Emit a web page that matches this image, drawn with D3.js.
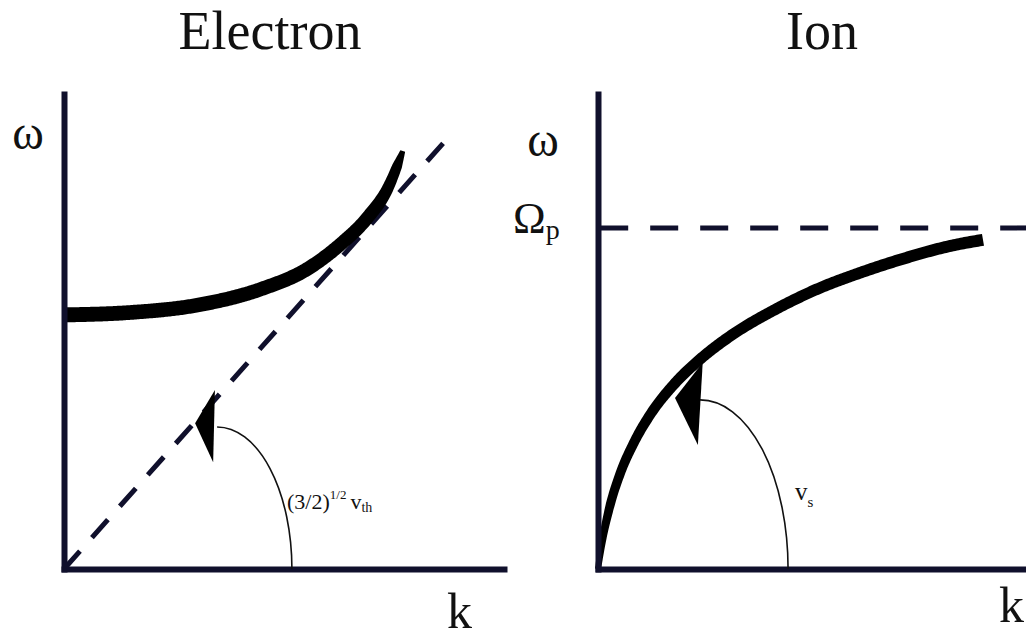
<!DOCTYPE html>
<html>
<head>
<meta charset="utf-8">
<script src="https://cdn.jsdelivr.net/npm/d3@7"></script>
<style>
  html, body { margin: 0; padding: 0; background: #fff; }
  svg { display: block; }
  text { font-family: "Liberation Serif", "Times New Roman", "DejaVu Serif", serif; fill: #111; }
</style>
</head>
<body>
<svg id="chart" width="1026" height="638"></svg>
<script>
// ---------- data (in panel units: k along x, omega along y, both 0..10) ----------
const panelTitles = ["Electron", "Ion"];

// Electron (Langmuir / Bohm-Gross) dispersion branch
const electronK     = [0, 1.5, 3, 4.5, 5.5, 6.3, 6.9, 7.35, 7.7];
const electronOmega = [5.35, 5.4, 5.55, 5.9, 6.3, 6.85, 7.4, 8.0, 8.8];

// Electron asymptote  omega = (3/2)^1/2 v_th k
const asymptoteK     = [0, 8.7];
const asymptoteOmega = [0, 9.05];

// Ion acoustic branch
const ionK     = [0, 0.1, 0.25, 0.5, 0.8, 1.2, 1.7, 2.3, 3.0, 4.0, 5.0, 6.0, 7.0, 8.0, 8.75];
const ionOmega = [0, 0.6, 1.25, 2.0, 2.63, 3.27, 3.86, 4.4, 4.9, 5.45, 5.9, 6.25, 6.55, 6.8, 6.93];

// Ion plasma frequency level
const omegaP = 7.18;
const omegaPK = [0.05, 10];

// Slope-indicator arcs: [centreK, radiusK, radiusOmega]
const electronArc = [3.48, 1.70, 2.99];
const ionArc      = [2.32, 2.0, 3.56];

// Arrowheads (k, omega) triangles
const electronArrowK = [2.98, 3.43, 3.39];
const electronArrowW = [3.07, 3.77, 2.25];
const ionArrowK = [1.75, 2.38, 2.27];
const ionArrowW = [3.60, 4.35, 2.61];

// ---------- layout ----------
const svg = d3.select("#chart");
const ink = "#000";
const navy = "#10102c";

const yScale = d3.scaleLinear().domain([0, 10]).range([569, 94]);
const xLeft  = d3.scaleLinear().domain([0, 10]).range([64, 504]);
const xRight = d3.scaleLinear().domain([0, 10]).range([598, 1038]);

function zip(a, b) { return a.map((v, i) => [v, b[i]]); }

// variable-width brush stroke along a smooth curve
function brush(g, x, ks, ws, widthStops) {
  const pts = zip(ks, ws).map(d => [x(d[0]), yScale(d[1])]);
  const line = d3.line().curve(d3.curveMonotoneX);
  const tmp = g.append("path").attr("d", line(pts)).attr("fill", "none");
  const node = tmp.node();
  const L = node.getTotalLength();
  const N = 300;
  const samples = d3.range(N + 1).map(i => node.getPointAtLength(L * i / N));
  const wInterp = d3.scaleLinear().domain(widthStops.map(s => s[0])).range(widthStops.map(s => s[1]));
  const left = [], right = [];
  samples.forEach((p, i) => {
    const a = samples[Math.max(0, i - 1)], b = samples[Math.min(N, i + 1)];
    const dx = b.x - a.x, dy = b.y - a.y;
    const len = Math.hypot(dx, dy) || 1;
    const nx = -dy / len, ny = dx / len;
    const w = wInterp(i / N) / 2;
    left.push([p.x + nx * w, p.y + ny * w]);
    right.push([p.x - nx * w, p.y - ny * w]);
  });
  tmp.remove();
  const poly = left.concat(right.reverse());
  g.append("path")
    .attr("d", d3.line().curve(d3.curveLinear)(poly) + "Z")
    .attr("fill", ink);
}

function arc(g, x, spec) {
  const [ck, rk, rw] = spec;
  const cx = x(ck), cy = yScale(0);
  const rx = x(ck + rk) - x(ck);
  const ry = yScale(0) - yScale(rw);
  g.append("path")
    .attr("d", `M${cx + rx},${cy} A${rx},${ry} 0 0 0 ${cx},${cy - ry}`)
    .attr("fill", "none").attr("stroke", "#111").attr("stroke-width", 1.6);
}

function arrowHead(g, x, ks, ws) {
  const pts = zip(ks, ws).map(d => [x(d[0]), yScale(d[1])]);
  g.append("path").attr("d", d3.line()(pts) + "Z").attr("fill", ink);
}

function axes(g, x) {
  const ax = g.append("g").attr("transform", `translate(0,${yScale(0)})`)
    .call(d3.axisBottom(x).ticks(0).tickSizeOuter(0));
  const ay = g.append("g").attr("transform", `translate(${x(0)},0)`)
    .call(d3.axisLeft(yScale).ticks(0).tickSizeOuter(0));
  [ax, ay].forEach(a => {
    a.selectAll("text").remove();
    a.select(".domain").attr("stroke", navy).attr("stroke-width", 6)
      .attr("stroke-linecap", "square");
  });
}

// ---------- Electron panel ----------
const gL = svg.append("g");
gL.append("path")
  .attr("d", d3.line()(zip(asymptoteK, asymptoteOmega).map(d => [xLeft(d[0]), yScale(d[1])])))
  .attr("fill", "none").attr("stroke", navy).attr("stroke-width", 5)
  .attr("stroke-dasharray", "24,18");
brush(gL, xLeft, electronK, electronOmega, [[0, 15], [0.6, 14], [0.85, 13], [0.96, 10], [1, 5]]);
axes(gL, xLeft);
arc(gL, xLeft, electronArc);
arrowHead(gL, xLeft, electronArrowK, electronArrowW);

// ---------- Ion panel ----------
const gR = svg.append("g");
gR.append("line")
  .attr("x1", xRight(omegaPK[0])).attr("x2", xRight(omegaPK[1]))
  .attr("y1", yScale(omegaP)).attr("y2", yScale(omegaP))
  .attr("stroke", navy).attr("stroke-width", 5)
  .attr("stroke-dasharray", "28,22");
brush(gR, xRight, ionK, ionOmega, [[0, 6], [0.12, 9], [0.4, 11], [1, 12]]);
axes(gR, xRight);
arc(gR, xRight, ionArc);
arrowHead(gR, xRight, ionArrowK, ionArrowW);

// ---------- text ----------
svg.append("text").attr("x", 270).attr("y", 49).attr("text-anchor", "middle")
  .attr("font-size", 54).text(panelTitles[0]);
svg.append("text").attr("x", 822).attr("y", 49).attr("text-anchor", "middle")
  .attr("font-size", 54).text(panelTitles[1]);

svg.append("text").attr("x", 28).attr("y", 149).attr("text-anchor", "middle")
  .attr("font-size", 48).text("ω");
svg.append("text").attr("x", 543).attr("y", 156).attr("text-anchor", "middle")
  .attr("font-size", 48).text("ω");

const om = svg.append("text").attr("x", 513).attr("y", 233).attr("font-size", 44);
om.append("tspan").text("Ω");
om.append("tspan").attr("font-size", 28).attr("dy", 6).text("p");

svg.append("text").attr("x", 447).attr("y", 628).attr("font-size", 50).text("k");
svg.append("text").attr("x", 999).attr("y", 622).attr("font-size", 50).text("k");

const lbl = svg.append("text").attr("x", 287).attr("y", 509).attr("font-size", 22);
lbl.append("tspan").text("(3/2)");
lbl.append("tspan").attr("font-size", 13).attr("dy", -10).text("1/2");
lbl.append("tspan").attr("dy", 10).attr("dx", 4).text("v");
lbl.append("tspan").attr("font-size", 14).attr("dy", 3).text("th");

const vs = svg.append("text").attr("x", 795).attr("y", 500).attr("font-size", 25);
vs.append("tspan").text("v");
vs.append("tspan").attr("font-size", 15).attr("dy", 7).text("s");
</script>
</body>
</html>
